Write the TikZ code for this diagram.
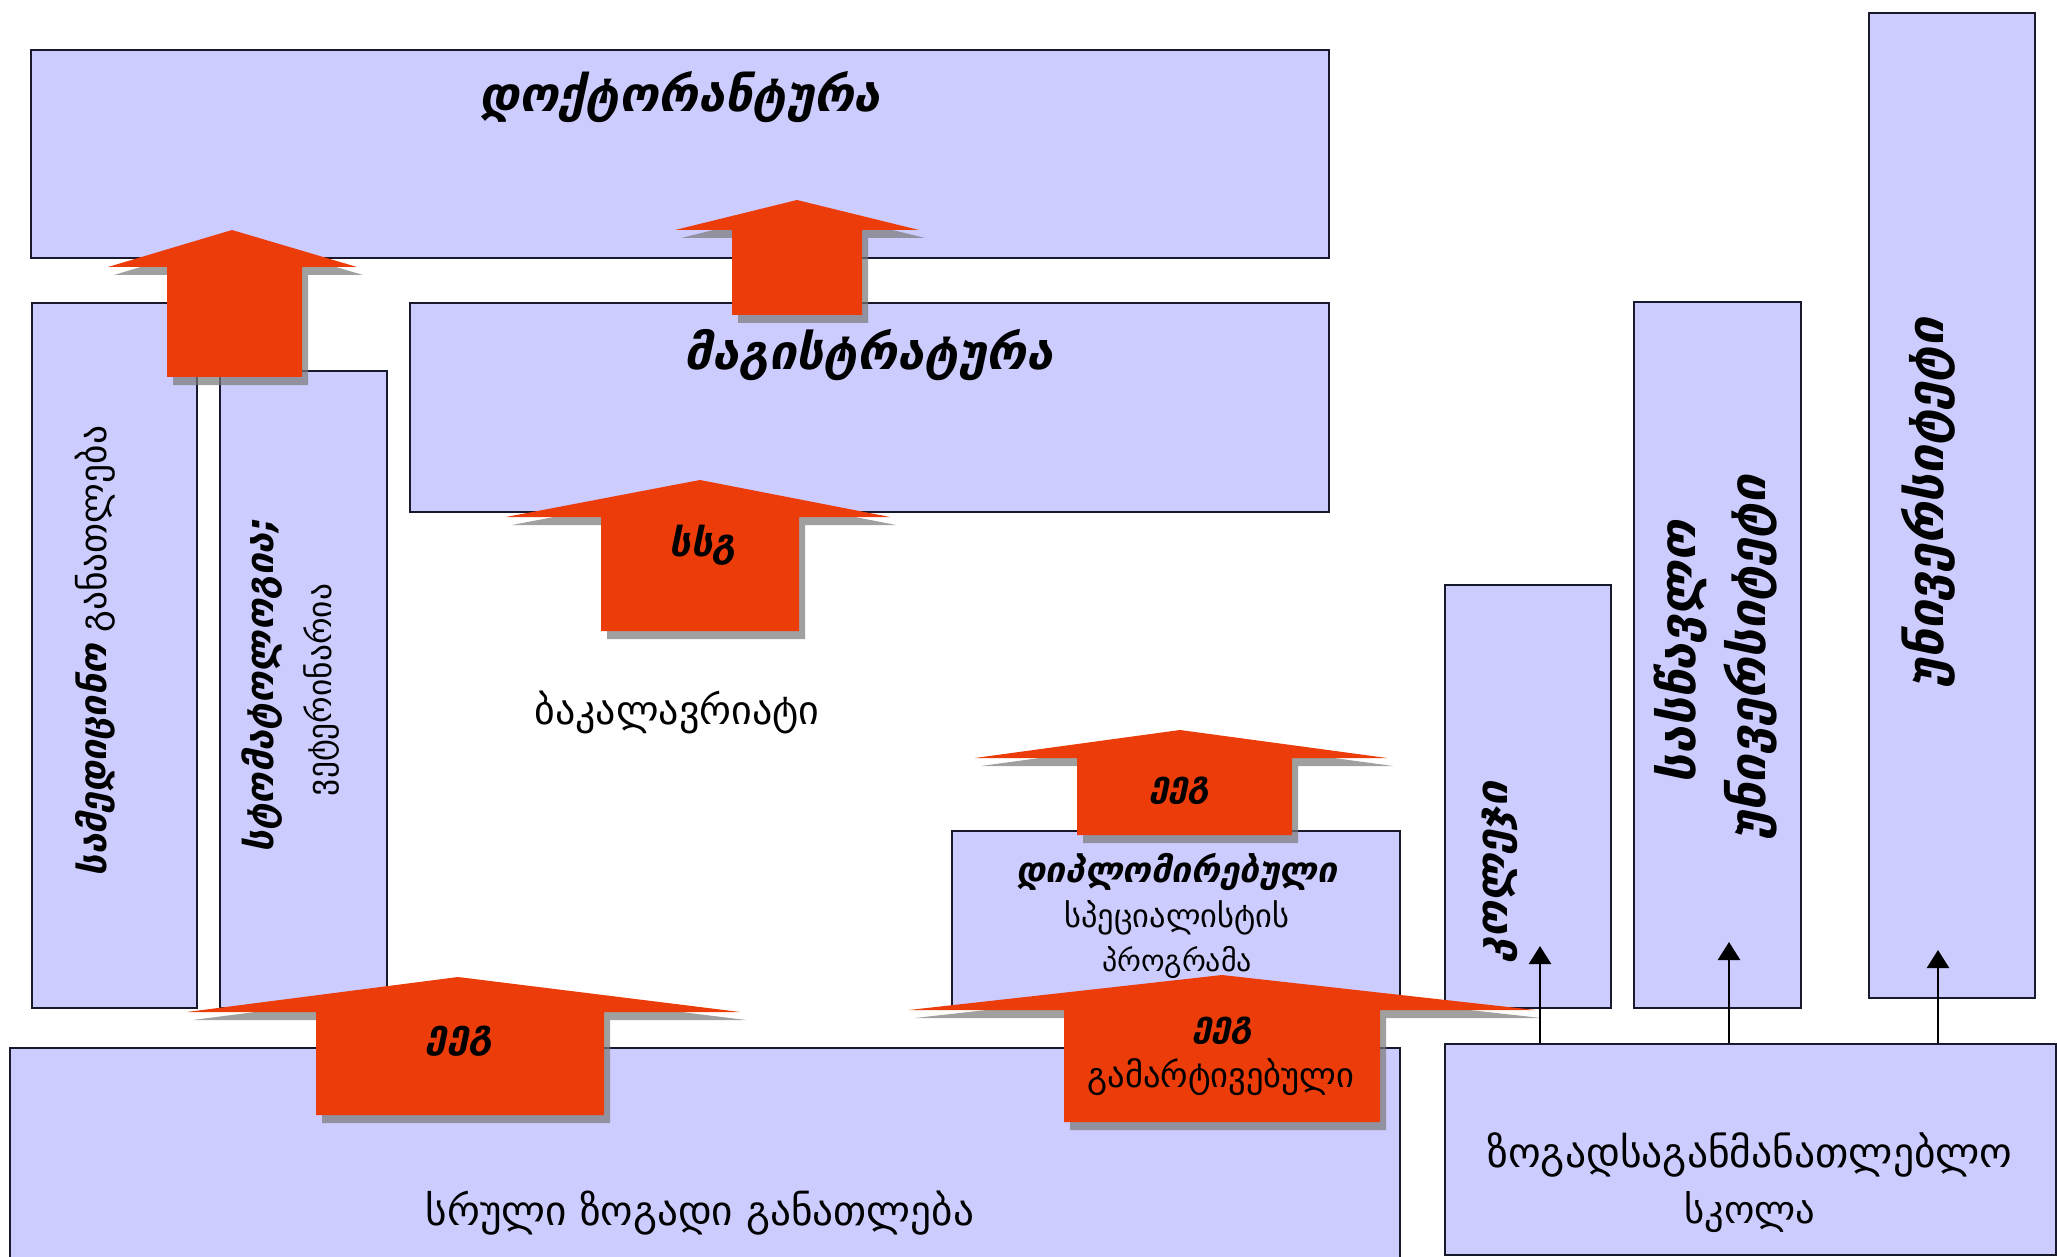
\documentclass[tikz,border=0pt]{standalone}
\usepackage{fontspec}
\usepackage{graphicx}
\setmainfont{DejaVu Sans}
\usetikzlibrary{arrows.meta}
\definecolor{boxfill}{RGB}{204,204,255}
\definecolor{boxline}{RGB}{25,25,45}
\definecolor{arrowfill}{RGB}{236,60,10}
\definecolor{shadowcol}{RGB}{120,120,120}
\newcommand\fitw[2]{\resizebox{#1pt}{!}{#2}}
\newcommand\blockarr[8]{%
  \fill[blockshadow, shift={(6,8)}] (#7,#8) -- (#6,#4) -- (#2,#4) -- (#2,#3) -- (#1,#3) -- (#1,#4) -- (#5,#4) -- cycle;
  \fill[blockarrow] (#7,#8) -- (#6,#4) -- (#2,#4) -- (#2,#3) -- (#1,#3) -- (#1,#4) -- (#5,#4) -- cycle;}
\tikzset{
  box/.style={draw=boxline, fill=boxfill, line width=2pt, inner sep=0pt, anchor=north west},
  bi/.style={font=\bfseries\itshape, inner sep=0pt},
  rg/.style={inner sep=0pt},
  blockarrow/.style={fill=arrowfill},
  blockshadow/.style={fill=shadowcol, opacity=0.7},
  thinarrow/.style={draw=black, line width=2.5pt, -{Triangle[width=22pt,length=18pt]}}
}
\begin{document}
\begin{tikzpicture}[x=1pt,y=-1pt]
\fill[white] (0,0) rectangle (2057,1257);
\useasboundingbox (0,0) rectangle (2057,1257);
% boxes
\node[box, minimum width=1298pt, minimum height=208pt] (doc) at (30,49) {};
\node[box, minimum width=919pt, minimum height=209pt] (mag) at (409,302) {};
\node[box, minimum width=165pt, minimum height=705pt] (med) at (31,302) {};
\node[box, minimum width=167pt, minimum height=637pt] (stom) at (219,370) {};
\node[box, minimum width=1390pt, minimum height=225pt] (gen) at (9,1047) {};
\node[box, minimum width=448pt, minimum height=177pt] (dipl) at (951,830) {};
\node[box, minimum width=166pt, minimum height=423pt] (coll) at (1444,584) {};
\node[box, minimum width=167pt, minimum height=706pt] (teach) at (1633,301) {};
\node[box, minimum width=166pt, minimum height=985pt] (univ) at (1868,12) {};
\node[box, minimum width=611pt, minimum height=211pt] (school) at (1444,1043) {};
% box texts
\node[bi] (tdoc) at (680,97) {\fitw{401}{დოქტორანტურა}};
\node[bi] (tmag) at (869,355) {\fitw{368}{მაგისტრატურა}};
\node[rg] (tbak) at (677,712) {\fitw{285}{ბაკალავრიატი}};
\node[rg] (tgen) at (700,1213) {\fitw{548}{სრული ზოგადი განათლება}};
\node[bi] (tdipl1) at (1177,872) {\fitw{321}{დიპლომირებული}};
\node[rg] (tdipl2) at (1177,918) {\fitw{225}{სპეციალისტის}};
\node[rg] (tdipl3) at (1177,962) {\fitw{150}{პროგრამა}};
\node[rg] (tsch1) at (1750,1155) {\fitw{525}{ზოგადსაგანმანათლებლო}};
\node[rg] (tsch2) at (1750,1212) {\fitw{131}{სკოლა}};
\node[rg, rotate=90] (tmed) at (95,651) {\fitw{450}{{\bfseries\itshape სამედიცინო} განათლება}};
\node[bi, rotate=90] (tstom1) at (262,685) {\fitw{335}{სტომატოლოგია;}};
\node[rg, rotate=90] (tstom2) at (322,690) {\fitw{212}{ვეტერინარია}};
\node[bi, rotate=90] (tcoll) at (1500,872) {\fitw{180}{კოლეჯი}};
\node[bi, rotate=90] (tteach1) at (1681,652) {\fitw{262}{სასწავლო}};
\node[bi, rotate=90] (tteach2) at (1750,658) {\fitw{365}{უნივერსიტეტი}};
\node[bi, rotate=90] (tuniv) at (1928,503) {\fitw{370}{უნივერსიტეტი}};
% block arrows
\blockarr{167}{302}{377}{267}{108}{357}{232}{230}
\blockarr{732}{862}{315}{230}{675}{919}{797}{200}
\blockarr{601}{799}{631}{517}{506}{890}{700}{480}
\node[bi] (tssg) at (703,545) {\fitw{67}{სსგ}};
\blockarr{1077}{1292}{835}{758}{975}{1387}{1180}{730}
\node[bi] (teeg4) at (1180,791) {\fitw{60}{ეეგ}};
\blockarr{316}{604}{1115}{1012}{187}{740}{458}{977}
\node[bi] (teeg5) at (460,1041) {\fitw{66}{ეეგ}};
\blockarr{1064}{1380}{1122}{1010}{909}{1535}{1222}{975}
\node[bi] (teeg6) at (1223,1031) {\fitw{60}{ეეგ}};
\node[rg] (tgam) at (1221,1077) {\fitw{267}{გამარტივებული}};
% thin arrows
\coordinate (c1) at (1540,946);
\coordinate (c2) at (1729,942);
\coordinate (c3) at (1938,950);
\draw[thinarrow] (school.north -| c1) -- (c1);
\draw[thinarrow] (school.north -| c2) -- (c2);
\draw[thinarrow] (school.north -| c3) -- (c3);
\end{tikzpicture}
\end{document}
